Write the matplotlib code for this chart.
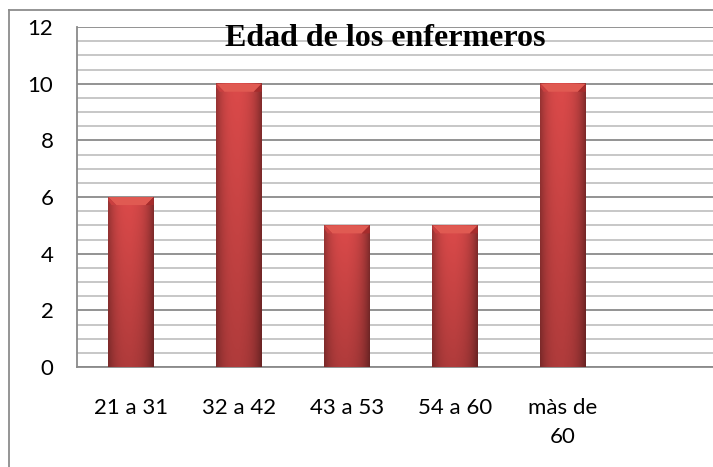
import numpy as np
import matplotlib
matplotlib.use("Agg")
import matplotlib.pyplot as plt
from matplotlib.patches import Polygon
from matplotlib.lines import Line2D

# data
categories = ["21 a 31", "32 a 42", "43 a 53", "54 a 60", "màs de\n60"]
counts = [6, 10, 5, 5, 10]
y_ticks = [0, 2, 4, 6, 8, 10, 12]
title = "Edad de los enfermeros"

plt.rcParams["font.family"] = ["Lato", "DejaVu Sans"]

fig = plt.figure(figsize=(7.13, 4.67), dpi=100)
ax = fig.add_axes([0.108, 0.214, 0.909, 0.728])

x = np.arange(len(categories))
bars = ax.bar(x, counts, width=0.42, color="#c43a3a", zorder=3)

ax.set_xlim(-0.5, 5.5)
ax.set_ylim(0, 12)

# grid: minor every 0.5, major every 2
ax.set_yticks(y_ticks)
ax.set_yticks(np.arange(0, 12.01, 0.5), minor=True)
ax.yaxis.grid(True, which="minor", color="#c3c3c3", linewidth=1.3, zorder=0)
ax.yaxis.grid(True, which="major", color="#8a8a8a", linewidth=1.3, zorder=1)
ax.set_axisbelow(True)

ax.set_xticks(x)
ax.set_xticklabels(categories, fontsize=16, linespacing=1.6)
ax.tick_params(axis="x", length=0, pad=22)
ax.tick_params(axis="y", which="both", length=0, pad=17, labelsize=16)

for side in ["top", "right"]:
    ax.spines[side].set_visible(False)
ax.spines["left"].set_color("#8a8a8a")
ax.spines["left"].set_linewidth(1.3)
ax.spines["bottom"].set_color("#8a8a8a")
ax.spines["bottom"].set_linewidth(1.3)

# shaded bar fill (horizontal + vertical gradient) and top bevel
nx, ny = 40, 100
hx = np.linspace(-1, 1, nx)
hprof = 1 - 0.30 * np.abs(hx) ** 3 - 0.10 * np.clip(hx, 0, None)
vprof = np.linspace(0.80, 1.0, ny)[:, None]
light = np.array([0.86, 0.29, 0.29])
shade = hprof[None, :, None] * vprof[:, :, None] * light[None, None, :]
img = np.clip(shade, 0, 1)

px_per_unit_y = ax.get_position().height * fig.bbox.height / 12
px_per_unit_x = ax.get_position().width * fig.bbox.width / 6
bev_h = 8 / px_per_unit_y
bev_w = 8 / px_per_unit_x

for b in bars:
    x0, w, h = b.get_x(), b.get_width(), b.get_height()
    ax.imshow(img, extent=[x0, x0 + w, 0, h], aspect="auto", origin="lower",
              zorder=3.5, interpolation="bilinear")
    top = Polygon([[x0, h], [x0 + w, h], [x0 + w - bev_w, h - bev_h], [x0 + bev_w, h - bev_h]],
                  closed=True, facecolor="#e05a52", edgecolor="none", zorder=4)
    ax.add_patch(top)
    left = Polygon([[x0, h], [x0 + bev_w, h - bev_h], [x0 + bev_w * 0.4, h - bev_h], [x0, h - bev_h * 0.4]],
                   closed=True, facecolor="#c94040", edgecolor="none", zorder=4)
    ax.add_patch(left)
    right = Polygon([[x0 + w, h], [x0 + w - bev_w, h - bev_h], [x0 + w, h - bev_h]],
                    closed=True, facecolor="#a62c2c", edgecolor="none", zorder=4)
    ax.add_patch(right)

ax.set_xlim(-0.5, 5.5)
ax.set_ylim(0, 12)

fig.text(0.54, 0.918, title, ha="center", va="center", fontsize=23,
         fontweight="bold", family=["Liberation Serif", "DejaVu Serif"])

# outer chart frame (cropped at the right and bottom)
fig.add_artist(Line2D([9 / 713, 1.0], [1 - 10 / 467, 1 - 10 / 467],
                      color="#8c8c8c", linewidth=1.3, transform=fig.transFigure))
fig.add_artist(Line2D([9 / 713, 9 / 713], [0, 1 - 10 / 467],
                      color="#8c8c8c", linewidth=1.3, transform=fig.transFigure))

fig.savefig("out.png", dpi=100)
